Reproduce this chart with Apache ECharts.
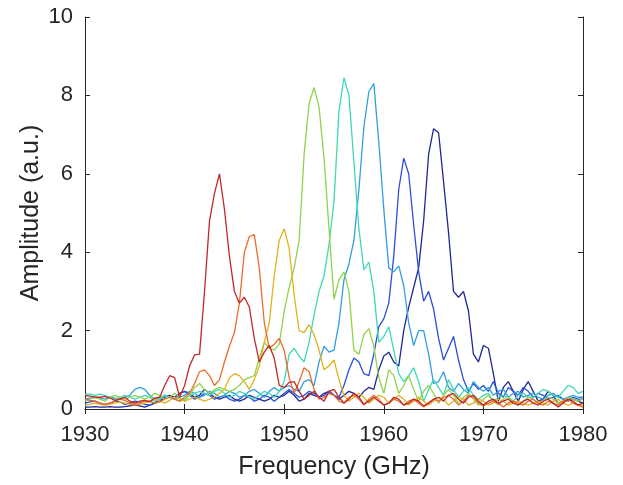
<!DOCTYPE html>
<html><head><meta charset="utf-8">
<script src="https://cdn.jsdelivr.net/npm/echarts@6/dist/echarts.min.js"></script>
<style>html,body{margin:0;padding:0;background:#fff}#c{width:623px;height:485px}</style>
</head><body><div id="c"></div>
<script>
// frequency grid 1930..1980 step 0.5 GHz
const freq = [];
for (let i = 0; i <= 100; i++) freq.push(1930 + i * 0.5);

const xTicks = [1930, 1940, 1950, 1960, 1970, 1980];
const yTicks = [0, 2, 4, 6, 8, 10];

const navy = [
 0.05,0.05,0.06,0.05,0.05,0.06,0.05,0.05,0.06,0.08,
 0.10,0.08,0.05,0.10,0.15,0.20,0.30,0.35,0.30,0.40,
 0.45,0.40,0.30,0.35,0.50,0.40,0.30,0.25,0.30,0.35,
 0.25,0.20,0.25,0.35,0.30,0.25,0.20,0.25,0.35,0.30,
 0.35,0.45,0.35,0.20,0.25,0.40,0.35,0.30,0.40,0.45,
 0.35,0.25,0.35,0.45,0.40,0.30,0.45,0.55,0.50,1.00,
 1.35,1.45,1.20,1.10,2.00,2.60,3.10,3.60,4.80,6.50,
 7.15,7.05,5.80,4.50,3.00,2.85,3.00,2.50,1.40,1.20,
 1.62,1.55,0.90,0.20,0.55,0.70,0.45,0.20,0.50,0.70,
 0.45,0.20,0.25,0.45,0.35,0.15,0.20,0.30,0.25,0.20,
 0.15];
const blue = [
 0.15,0.18,0.20,0.15,0.12,0.15,0.20,0.18,0.12,0.15,
 0.20,0.18,0.12,0.10,0.15,0.25,0.35,0.30,0.25,0.40,
 0.45,0.35,0.25,0.30,0.40,0.35,0.25,0.30,0.35,0.25,
 0.20,0.25,0.35,0.30,0.20,0.25,0.35,0.30,0.20,0.30,
 0.40,0.50,0.40,0.30,0.35,0.45,0.40,0.30,0.35,0.45,
 0.35,0.30,0.60,1.00,1.30,1.20,0.90,0.85,1.40,2.10,
 2.30,2.70,3.90,5.60,6.40,6.00,4.70,3.50,2.75,3.00,
 2.55,1.80,1.25,1.55,1.85,1.25,0.75,0.45,0.65,0.50,
 0.60,0.45,0.70,0.40,0.30,0.55,0.45,0.35,0.55,0.45,
 0.30,0.40,0.35,0.25,0.30,0.35,0.25,0.20,0.30,0.25,
 0.25];
const sky = [
 0.25,0.28,0.30,0.28,0.25,0.30,0.28,0.25,0.30,0.35,
 0.50,0.55,0.50,0.35,0.25,0.30,0.35,0.30,0.25,0.30,
 0.35,0.45,0.40,0.30,0.35,0.45,0.40,0.30,0.35,0.45,
 0.40,0.30,0.35,0.45,0.50,0.40,0.30,0.45,0.55,0.45,
 0.55,0.60,0.50,0.45,0.70,0.75,0.60,1.20,1.60,1.45,
 1.50,2.20,3.30,3.70,4.30,5.60,7.20,8.10,8.30,6.80,
 5.10,3.60,3.50,3.65,3.15,2.20,1.62,2.00,2.00,1.40,
 0.65,0.70,0.95,0.55,0.45,0.65,0.50,0.40,0.70,0.55,
 0.45,0.55,0.35,0.45,0.50,0.30,0.40,0.45,0.30,0.35,
 0.40,0.30,0.25,0.35,0.40,0.30,0.25,0.30,0.35,0.30,
 0.30];
const teal = [
 0.38,0.38,0.35,0.38,0.35,0.30,0.25,0.30,0.35,0.30,
 0.25,0.30,0.35,0.30,0.20,0.25,0.35,0.30,0.25,0.20,
 0.25,0.35,0.40,0.45,0.40,0.35,0.45,0.50,0.40,0.30,
 0.35,0.45,0.40,0.30,0.25,0.35,0.45,0.40,0.30,0.45,
 0.70,1.40,1.55,1.35,1.20,1.70,2.40,3.00,3.40,4.20,
 5.30,7.60,8.45,8.00,6.30,4.60,3.55,3.75,3.00,1.70,
 1.85,2.10,1.50,0.90,0.70,0.85,1.05,0.70,0.20,0.50,
 0.75,0.55,0.35,0.75,0.50,0.30,0.45,0.55,0.35,0.25,
 0.35,0.40,0.20,0.30,0.35,0.30,0.20,0.35,0.40,0.30,
 0.30,0.40,0.50,0.45,0.35,0.30,0.45,0.60,0.55,0.40,
 0.45];
const green = [
 0.20,0.25,0.30,0.25,0.20,0.30,0.35,0.30,0.25,0.30,
 0.35,0.30,0.25,0.30,0.40,0.35,0.25,0.30,0.40,0.30,
 0.20,0.35,0.55,0.65,0.50,0.40,0.50,0.55,0.50,0.45,
 0.50,0.60,0.75,0.80,0.85,1.30,1.70,1.55,1.50,1.65,
 2.50,3.10,3.60,4.30,6.50,7.80,8.20,7.70,6.40,4.60,
 2.80,3.30,3.50,3.00,1.50,1.40,1.90,2.05,1.60,0.80,
 0.40,1.00,0.85,0.40,0.60,0.85,0.50,0.20,0.45,0.60,
 0.40,0.15,0.35,0.50,0.35,0.15,0.30,0.40,0.25,0.10,
 0.25,0.35,0.20,0.10,0.25,0.30,0.20,0.10,0.20,0.30,
 0.25,0.15,0.20,0.30,0.25,0.15,0.20,0.30,0.25,0.20,
 0.25];
const gold = [
 0.10,0.12,0.15,0.12,0.10,0.12,0.15,0.18,0.15,0.12,
 0.10,0.12,0.15,0.20,0.25,0.20,0.15,0.22,0.30,0.25,
 0.20,0.25,0.30,0.25,0.20,0.25,0.30,0.40,0.50,0.80,
 0.90,0.85,0.70,0.50,0.75,1.10,1.70,2.20,3.40,4.30,
 4.60,4.10,2.90,2.00,1.95,2.15,1.90,1.50,1.00,1.10,
 1.25,0.75,0.35,0.20,0.30,0.40,0.30,0.15,0.25,0.35,
 0.30,0.15,0.25,0.35,0.25,0.10,0.20,0.30,0.20,0.10,
 0.20,0.30,0.25,0.10,0.20,0.30,0.25,0.10,0.15,0.25,
 0.20,0.10,0.15,0.25,0.20,0.10,0.15,0.20,0.15,0.10,
 0.15,0.20,0.15,0.10,0.20,0.25,0.15,0.10,0.15,0.10,
 0.10];
const orange = [
 0.25,0.22,0.20,0.15,0.12,0.15,0.20,0.25,0.22,0.15,
 0.12,0.15,0.20,0.20,0.15,0.18,0.25,0.30,0.25,0.20,
 0.30,0.40,0.65,0.95,1.00,0.85,0.60,0.75,1.20,1.60,
 1.95,2.70,4.00,4.40,4.45,3.60,2.20,1.55,1.65,1.80,
 1.50,0.80,0.40,0.70,1.05,0.95,0.50,0.25,0.30,0.40,
 0.35,0.20,0.15,0.30,0.35,0.25,0.10,0.25,0.35,0.25,
 0.10,0.15,0.25,0.20,0.10,0.20,0.25,0.15,0.05,0.15,
 0.25,0.20,0.30,0.35,0.25,0.10,0.20,0.35,0.30,0.15,
 0.08,0.15,0.20,0.15,0.05,0.15,0.20,0.15,0.10,0.20,
 0.25,0.15,0.10,0.20,0.15,0.10,0.20,0.25,0.15,0.10,
 0.05];
const red = [
 0.35,0.33,0.30,0.30,0.32,0.28,0.22,0.25,0.30,0.20,
 0.15,0.20,0.22,0.18,0.28,0.30,0.60,0.85,0.80,0.30,
 0.60,1.10,1.38,1.40,3.00,4.80,5.50,6.00,5.10,3.90,
 3.00,2.70,2.85,2.60,1.80,1.20,1.45,1.62,1.30,0.60,
 0.55,0.68,0.70,0.45,0.25,0.35,0.45,0.30,0.20,0.45,
 0.50,0.30,0.15,0.25,0.40,0.30,0.12,0.20,0.30,0.20,
 0.10,0.15,0.30,0.25,0.10,0.15,0.25,0.20,0.08,0.15,
 0.25,0.30,0.20,0.35,0.40,0.25,0.15,0.30,0.35,0.20,
 0.10,0.20,0.25,0.15,0.20,0.25,0.15,0.10,0.20,0.25,
 0.15,0.10,0.20,0.25,0.15,0.05,0.15,0.25,0.20,0.10,
 0.15];

const seriesData = [navy, blue, sky, teal, green, gold, orange, red];
const colors = ['#1f2796', '#2a4fd6', '#2f9fe0', '#3fd8b8', '#92d24a', '#e2b21c', '#ec6a2c', '#c22828'];

const axisColor = '#262626';
const font = 'Liberation Sans, Arial, sans-serif';

const chart = echarts.init(document.getElementById('c'));
const baseAxis = {
  type: 'value',
  axisLine: { show: true, lineStyle: { color: axisColor, width: 1 } },
  axisTick: { show: true, inside: true, length: 5, lineStyle: { color: axisColor } },
  splitLine: { show: false }
};
chart.setOption({
  animation: false,
  backgroundColor: '#fff',
  grid: { left: 85, right: 40, top: 17, bottom: 74, containLabel: false },
  xAxis: [
    Object.assign({}, baseAxis, {
      position: 'bottom', min: 1930, max: 1980, interval: 10,
      name: 'Frequency (GHz)', nameLocation: 'middle', nameGap: 46,
      nameMoveOverlap: false,
      nameTextStyle: { fontFamily: font, fontSize: 25, color: axisColor },
      axisLabel: { show: true, margin: 15, fontFamily: font, fontSize: 22, color: axisColor,
        formatter: v => xTicks.includes(v) ? String(v) : '' }
    }),
    Object.assign({}, baseAxis, {
      position: 'top', min: 1930, max: 1980, interval: 10, axisLabel: { show: false }
    })
  ],
  yAxis: [
    Object.assign({}, baseAxis, {
      position: 'left', min: 0, max: 10, interval: 2,
      name: 'Amplitude (a.u.)', nameLocation: 'middle', nameGap: 41,
      nameMoveOverlap: false,
      nameTextStyle: { fontFamily: font, fontSize: 25, color: axisColor },
      axisLabel: { show: true, margin: 12, fontFamily: font, fontSize: 22, color: axisColor,
        formatter: v => yTicks.includes(v) ? String(v) : '' }
    }),
    Object.assign({}, baseAxis, {
      position: 'right', min: 0, max: 10, interval: 2, axisLabel: { show: false }
    })
  ],
  series: seriesData.map((d, k) => ({
    type: 'line',
    xAxisIndex: 0, yAxisIndex: 0,
    data: freq.map((f, i) => [f, d[i]]),
    showSymbol: false,
    symbol: 'none',
    lineStyle: { color: colors[k], width: 1.3 },
    itemStyle: { color: colors[k] },
    z: 2 + k
  }))
});
</script></body></html>
